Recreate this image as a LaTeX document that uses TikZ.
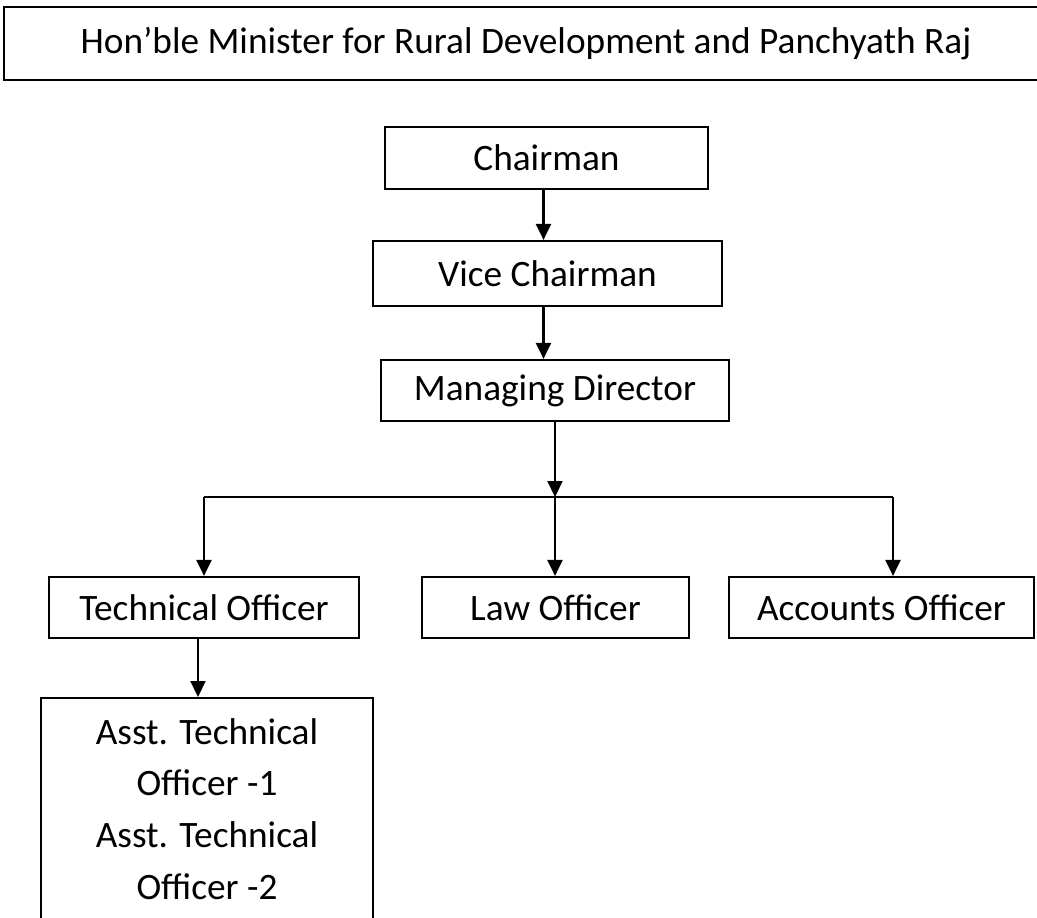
\documentclass[tikz,border=0pt]{standalone}
\usepackage{fontspec}
\setmainfont{Carlito}
\usetikzlibrary{arrows.meta}
\begin{document}
\begin{tikzpicture}[x=1pt,y=-1pt,line width=2.2pt,
    >={Triangle[length=16pt,width=15pt]},
    font=\fontsize{37.3pt}{51.7pt}\selectfont]
            \useasboundingbox (0,0) rectangle (1037,918);
            \clip (0,0) rectangle (1037,918);

            \begin{scope}[every node/.style={rectangle,draw,inner sep=0pt,align=center}]
                \node[minimum width=1044pt,minimum height=73pt] (minister) at (526,43.5) {Hon’ble Minister for Rural Development and Panchyath Raj};
                \node[minimum width=323pt,minimum height=62pt] (chair) at (546.5,158) {Chairman};
                \node[minimum width=349pt,minimum height=65pt] (vice) at (547.5,273.5) {Vice Chairman};
                \node[minimum width=348pt,minimum height=61pt] (md) at (555,390.5) {Managing Director};
                \node[minimum width=310pt,minimum height=61pt] (tech) at (204,607.5) {Technical Officer};
                \node[minimum width=267pt,minimum height=61pt] (law) at (555.5,607.5) {Law Officer};
                \node[minimum width=305pt,minimum height=61pt] (acc) at (881.5,607.5) {Accounts Officer};
                \node[anchor=north,minimum width=332pt,inner ysep=20pt,text depth=40pt] (asst) at (207,697) {Asst. Technical\\Officer -1\\Asst. Technical\\Officer -2};
            \end{scope}

            \coordinate (split) at (md.south |- 0,497);
            \coordinate (lsplit) at (tech.north |- split);
            \coordinate (rsplit) at (893,497);

            \begin{scope}
                \path [->] ([xshift=-3pt]chair.south) edge ([xshift=-3pt]chair.south |- vice.north);
                \path [->] ([xshift=-3pt]chair.south |- vice.south) edge ([xshift=-3pt]chair.south |- md.north);
                \path [->] (md.south) edge (split);
                \draw (lsplit) -- (rsplit);
                \path [->] (lsplit) edge (tech.north);
                \path [->] (split) edge (split |- law.north);
                \path [->] (rsplit) edge (rsplit |- acc.north);
                \path [->] ([xshift=-6pt]tech.south) edge ([xshift=-6pt]tech.south |- asst.north);
            \end{scope}
            \end{tikzpicture}
\end{document}
